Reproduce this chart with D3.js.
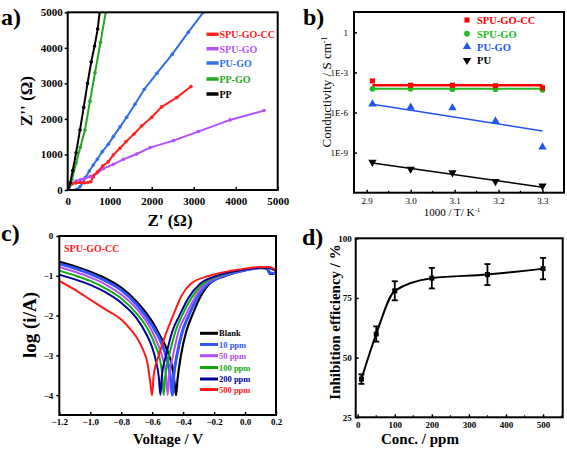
<!DOCTYPE html>
<html><head><meta charset="utf-8">
<script src="https://cdn.jsdelivr.net/npm/d3@7/dist/d3.min.js"></script>
<style>body{margin:0;background:#fff}svg{display:block}</style>
</head><body>
<script>
// ---------- Panel a data (Nyquist) ----------
const aSeries = ["SPU-GO-CC","SPU-GO","PU-GO","PP-GO","PP"];
const aColors = ["#ff2020","#b450ff","#2f6fe8","#22aa22","#000000"];
const aSPUGOCC = [[0,20],[30,100],[100,170],[200,200],[300,210],[400,205],[480,212],[548,234],[610,375],[714,515],[833,676],[967,797],[1086,986],[1245,1175],[1388,1361],[1579,1577],[1762,1803],[2000,2048],[2238,2338],[2595,2600],[2936,2910]];
const aSPUGO = [[10,20],[50,120],[100,190],[200,250],[300,290],[400,320],[531,375],[700,480],[848,600],[1086,723],[1325,864],[1643,1014],[1960,1192],[2516,1389],[3110,1643],[3865,1972],[4676,2234]];
const aPUGO = [[214,20],[293,93],[357,206],[428,358],[514,535],[610,704],[705,864],[824,1079],[967,1287],[1086,1502],[1245,1775],[1404,2048],[1602,2414],[1825,2836],[2126,3287],[2491,3822],[2872,4442],[3229,5000],[3300,5100]];
const aPPGO = [[30,0],[100,300],[200,760],[300,1200],[412,1690],[530,2500],[650,3300],[780,4150],[905,5000],[920,5100]];
const aPP = [[15,0],[60,200],[120,550],[200,1050],[293,1690],[380,2320],[472,3000],[560,3600],[640,4050],[714,4530],[760,5000],[770,5100]];
const aTicks = [0,1000,2000,3000,4000,5000];

// ---------- Panel b data (conductivity) ----------
const bSeries = ["SPU-GO-CC","SPU-GO","PU-GO","PU"];
const bColors = ["#ff0000","#22bb22","#2255ee","#000000"];
const bX = [2.913,3.0,3.095,3.193,3.3];
const bSPUGOCC = [2.3e-4,1.1e-4,1.1e-4,1.0e-4,7e-5];
const bSPUGO = [5.9e-5,5.9e-5,5.6e-5,5.6e-5,5.0e-5];
const bPUGO = [4.2e-6,2.4e-6,2.2e-6,2.3e-7,2.6e-9];
const bPU = [1.9e-10,5.9e-11,3.2e-11,7e-12,3.2e-12];
const bFitX = [2.913,3.3];
const bFitSPUGOCC = [1.1e-4,1.1e-4];
const bFitSPUGO = [5.9e-5,5.9e-5];
const bFitPUGO = [4.2e-6,4.2e-8];
const bFitPU = [1.7e-10,2.6e-12];
const bXTicks = [2.9,3.0,3.1,3.2,3.3];
const bYTicks = [1,1e-3,1e-6,1e-9];
const bYLabels = ["1","1E-3","1E-6","1E-9"];

// ---------- Panel c data (Tafel) ----------
const cSeries = ["Blank","10 ppm","50 ppm","100 ppm","200 ppm","500 ppm"];
const cColors = ["#000000","#3355ff","#b44dff","#11aa11","#000099","#ff1a1a"];
const cBlank = [[-1.2,-0.65],[-1.1,-0.76],[-1.0,-0.9],[-0.9,-1.07],[-0.8,-1.3],[-0.7,-1.65],[-0.6,-2.15],[-0.55,-2.5],[-0.5,-2.9],[-0.47,-3.3],[-0.455,-3.7],[-0.446,-4.0],[-0.436,-3.6],[-0.414,-3.0],[-0.38,-2.4],[-0.342,-2.0],[-0.285,-1.5],[-0.23,-1.2],[-0.125,-1.0],[0,-0.86],[0.1,-0.8],[0.14,-0.82],[0.16,-0.95],[0.2,-0.95]];
const c10 = [[-1.2,-0.7],[-1.1,-0.81],[-1.0,-0.95],[-0.9,-1.13],[-0.8,-1.36],[-0.7,-1.72],[-0.6,-2.25],[-0.55,-2.6],[-0.52,-2.9],[-0.49,-3.35],[-0.478,-3.7],[-0.47,-4.0],[-0.46,-3.5],[-0.44,-3.0],[-0.405,-2.4],[-0.364,-2.0],[-0.305,-1.52],[-0.245,-1.22],[-0.15,-1.02],[0,-0.86],[0.1,-0.8],[0.14,-0.8],[0.16,-0.92],[0.2,-0.95]];
const c50 = [[-1.2,-0.78],[-1.1,-0.9],[-1.0,-1.04],[-0.9,-1.22],[-0.8,-1.47],[-0.7,-1.83],[-0.6,-2.4],[-0.56,-2.75],[-0.53,-3.1],[-0.51,-3.5],[-0.5,-4.0],[-0.49,-3.5],[-0.465,-3.0],[-0.43,-2.4],[-0.385,-2.0],[-0.325,-1.55],[-0.26,-1.22],[-0.17,-1.03],[0,-0.85],[0.1,-0.8],[0.15,-0.8],[0.2,-0.9]];
const c100 = [[-1.2,-0.87],[-1.1,-0.99],[-1.0,-1.13],[-0.9,-1.32],[-0.8,-1.57],[-0.7,-1.95],[-0.62,-2.4],[-0.58,-2.75],[-0.55,-3.1],[-0.535,-3.5],[-0.526,-4.0],[-0.515,-3.5],[-0.49,-3.0],[-0.45,-2.4],[-0.407,-2.0],[-0.345,-1.55],[-0.275,-1.22],[-0.18,-1.02],[0,-0.84],[0.1,-0.8],[0.15,-0.8],[0.2,-0.88]];
const c200 = [[-1.2,-0.97],[-1.1,-1.09],[-1.0,-1.23],[-0.9,-1.42],[-0.8,-1.68],[-0.7,-2.07],[-0.64,-2.45],[-0.6,-2.8],[-0.575,-3.15],[-0.557,-3.55],[-0.547,-4.0],[-0.537,-3.5],[-0.51,-3.0],[-0.47,-2.4],[-0.424,-2.0],[-0.365,-1.55],[-0.29,-1.2],[-0.19,-1.01],[0,-0.84],[0.1,-0.8],[0.15,-0.8],[0.2,-0.88]];
const c500 = [[-1.2,-1.13],[-1.1,-1.35],[-1.0,-1.6],[-0.9,-1.85],[-0.8,-2.1],[-0.75,-2.3],[-0.7,-2.55],[-0.66,-2.85],[-0.63,-3.2],[-0.612,-3.7],[-0.601,-4.0],[-0.59,-3.5],[-0.557,-3.0],[-0.515,-2.5],[-0.465,-2.0],[-0.41,-1.5],[-0.35,-1.2],[-0.23,-1.0],[-0.1,-0.88],[0,-0.82],[0.1,-0.78],[0.15,-0.78],[0.2,-0.85]];
const cXTicks = [-1.2,-1.0,-0.8,-0.6,-0.4,-0.2,0.0,0.2];
const cYTicks = [0,-1,-2,-3,-4];

// ---------- Panel d data (inhibition efficiency) ----------
const dConc = [10,50,100,200,350,500];
const dIE = [41,59.9,78,83.3,84.8,87.3];
const dErr = [2,3.2,4,4.3,4.4,4.5];
const dXTicks = [0,100,200,300,400,500];
const dYTicks = [25,50,75,100];

const SERIF = "'Liberation Serif','Times New Roman',serif";
const svg = d3.select("body").append("svg").attr("width",567).attr("height",449)
  .attr("font-family",SERIF).attr("font-weight","bold");

function box(g,x0,y0,x1,y1){
  g.append("rect").attr("x",x0).attr("y",y0).attr("width",x1-x0).attr("height",y1-y0)
   .attr("fill","none").attr("stroke","#000").attr("stroke-width",2);
}
function clip(id,x0,y0,x1,y1){
  svg.append("clipPath").attr("id",id).append("rect").attr("x",x0).attr("y",y0).attr("width",x1-x0).attr("height",y1-y0);
}
function styleAxis(g,fs){
  g.select(".domain").remove();
  g.selectAll(".tick line").attr("stroke","#000").attr("stroke-width",1.5);
  g.selectAll(".tick text").attr("font-size",fs).attr("font-family",SERIF).attr("font-weight","bold").attr("fill","#000");
}

// ================= Panel a =================
{
  const x = d3.scaleLinear([0,5000],[67.7,277.7]);
  const y = d3.scaleLinear([0,5000],[190,12.3]);
  clip("ca",67.7,12.3,277.7,190);
  const gl = svg.append("g").attr("clip-path","url(#ca)");
  const line = d3.line().x(d=>x(d[0])).y(d=>y(d[1]));
  const data = [aSPUGOCC,aSPUGO,aPUGO,aPPGO,aPP];
  const order = [2,1,0,3,4];
  order.forEach(i=>{
    gl.append("path").attr("d",line(data[i])).attr("fill","none").attr("stroke",aColors[i]).attr("stroke-width",2);
    gl.selectAll(null).data(data[i]).enter().append("circle")
      .attr("cx",d=>x(d[0])).attr("cy",d=>y(d[1])).attr("r",1.8).attr("fill",aColors[i]);
  });
  const ax = svg.append("g").attr("transform","translate(0,190)")
    .call(d3.axisBottom(x).tickValues(aTicks).tickSize(-3).tickPadding(7).tickFormat(d3.format("d")));
  styleAxis(ax,11);
  const ay = svg.append("g").attr("transform","translate(67.7,0)")
    .call(d3.axisLeft(y).tickValues(aTicks).tickSize(3).tickPadding(2).tickFormat(d3.format("d")));
  styleAxis(ay,11);
  box(svg,67.7,12.3,277.7,190);
  const ly = [34.3,48.7,63,79,94];
  aSeries.forEach((s,i)=>{
    svg.append("line").attr("x1",206.5).attr("x2",218.5).attr("y1",ly[i]).attr("y2",ly[i]).attr("stroke",aColors[i]).attr("stroke-width",3.5);
    svg.append("text").attr("x",219.5).attr("y",ly[i]+3.8).attr("font-size",10).attr("fill",aColors[i]).text(s);
  });
  svg.append("text").attr("x",170).attr("y",226).attr("text-anchor","middle").attr("font-size",17).text("Z' (\u03A9)");
  svg.append("text").attr("transform","translate(32,101) rotate(-90)").attr("text-anchor","middle").attr("font-size",17).text("Z'' (\u03A9)");
  svg.append("text").attr("x",1).attr("y",25).attr("font-size",24).text("a)");
}

// ================= Panel b =================
{
  const x = d3.scaleLinear([2.871,3.349],[354,564]);
  const y = d3.scaleLog([1e-12,Math.pow(10,1.52)],[192.7,12]);
  const data = [bSPUGOCC,bSPUGO,bPUGO,bPU];
  const fits = [bFitSPUGOCC,bFitSPUGO,bFitPUGO,bFitPU];
  const widths = [2.5,2,1.5,1.5];
  const symbols = [d3.symbolSquare,d3.symbolCircle,d3.symbolTriangle,d3.symbolTriangle];
  const sizes = [26,26,30,30];
  [3,2,1,0].forEach(i=>{
    svg.append("path").attr("d",d3.line().x((d,j)=>x(bFitX[j])).y(d=>y(d))(fits[i]))
      .attr("stroke",bColors[i]).attr("stroke-width",widths[i]).attr("fill","none");
    svg.selectAll(null).data(data[i]).enter().append("path")
      .attr("d",d3.symbol().type(symbols[i]).size(sizes[i]))
      .attr("transform",(d,j)=>`translate(${x(bX[j])},${y(d)})${i===3?" rotate(180)":""}`)
      .attr("fill",bColors[i]);
  });
  const ax = svg.append("g").attr("transform","translate(0,192.7)")
    .call(d3.axisBottom(x).tickValues(bXTicks).tickSize(-3).tickPadding(5).tickFormat(d3.format(".1f")));
  styleAxis(ax,9);
  ax.selectAll(".tick text").attr("font-weight","normal");
  const minor = [2.95,3.05,3.15,3.25];
  svg.selectAll(null).data(minor).enter().append("line").attr("x1",d=>x(d)).attr("x2",d=>x(d))
    .attr("y1",192.7).attr("y2",190.7).attr("stroke","#000").attr("stroke-width",1.2);
  const ay = svg.append("g").attr("transform","translate(354,0)")
    .call(d3.axisLeft(y).tickValues(bYTicks).tickSize(-3).tickPadding(6).tickFormat((d,i)=>bYLabels[i]));
  styleAxis(ay,9);
  ay.selectAll(".tick text").attr("font-weight","normal");
  box(svg,354,12,564,192.7);
  const ly = [20,33.7,46.7,60.3];
  bSeries.forEach((s,i)=>{
    svg.append("path").attr("d",d3.symbol().type(symbols[i]).size(sizes[i]))
      .attr("transform",`translate(467,${ly[i]})${i===3?" rotate(180)":""}`).attr("fill",bColors[i]);
    svg.append("text").attr("x",477).attr("y",ly[i]+3.8).attr("font-size",10.5).attr("fill",bColors[i]).text(s);
  });
  const xt = svg.append("text").attr("x",452).attr("y",216).attr("text-anchor","middle").attr("font-size",11).attr("font-weight","normal");
  xt.append("tspan").text("1000 / T/ K");
  xt.append("tspan").attr("baseline-shift","super").attr("font-size",7).text("-1");
  const yt = svg.append("text").attr("transform","translate(331,92) rotate(-90)").attr("text-anchor","middle").attr("font-size",13).attr("font-weight","normal");
  yt.append("tspan").text("Conductivity / S cm");
  yt.append("tspan").attr("baseline-shift","super").attr("font-size",8).text("-1");
  svg.append("text").attr("x",303).attr("y",25).attr("font-size",24).text("b)");
}

// ================= Panel c =================
{
  const x = d3.scaleLinear([-1.2,0.2],[59.3,276]);
  const y = d3.scaleLinear([-4.5,0],[415,236]);
  clip("cc",59.3,236,276,415);
  const gl = svg.append("g").attr("clip-path","url(#cc)");
  const line = d3.line().x(d=>x(d[0])).y(d=>y(d[1])).curve(d3.curveMonotoneX);
  const data = [cBlank,c10,c50,c100,c200,c500];
  const widths = [2.2,3,2,2,2,2];
  [0,1,2,3,4,5].forEach(i=>{
    gl.append("path").attr("d",line(data[i])).attr("fill","none").attr("stroke",cColors[i]).attr("stroke-width",widths[i]);
  });
  const ax = svg.append("g").attr("transform","translate(0,415)")
    .call(d3.axisBottom(x).tickValues(cXTicks).tickSize(-3).tickPadding(4).tickFormat(d3.format(".1f")));
  styleAxis(ax,9);
  const ay = svg.append("g").attr("transform","translate(59.3,0)")
    .call(d3.axisLeft(y).tickValues(cYTicks).tickSize(3).tickPadding(3).tickFormat(d3.format("d")));
  styleAxis(ay,9);
  box(svg,59.3,236,276,415);
  const ly = [333.3,344.5,355.7,367.5,379,389.5];
  cSeries.forEach((s,i)=>{
    svg.append("line").attr("x1",200).attr("x2",218).attr("y1",ly[i]).attr("y2",ly[i]).attr("stroke",cColors[i]).attr("stroke-width",3);
    svg.append("text").attr("x",219).attr("y",ly[i]+3).attr("font-size",8.5).attr("fill",cColors[i]).text(s);
  });
  svg.append("text").attr("x",64).attr("y",252).attr("font-size",10).attr("fill","#ff1a1a").text("SPU-GO-CC");
  svg.append("text").attr("x",168).attr("y",444).attr("text-anchor","middle").attr("font-size",15).text("Voltage / V");
  svg.append("text").attr("transform","translate(36,325) rotate(-90)").attr("text-anchor","middle").attr("font-size",19).text("log (i/A)");
  svg.append("text").attr("x",1).attr("y",241).attr("font-size",24).text("c)");
}

// ================= Panel d =================
{
  const x = d3.scaleLinear([-5.4,553],[355.7,562.7]);
  const y = d3.scaleLinear([25,100],[417.3,238.3]);
  const pts = dConc.map((c,i)=>[c,dIE[i]]);
  svg.append("path").attr("d",d3.line().x(d=>x(d[0])).y(d=>y(d[1])).curve(d3.curveMonotoneX)(pts))
    .attr("fill","none").attr("stroke","#000").attr("stroke-width",2);
  dConc.forEach((c,i)=>{
    const cx=x(c), t=y(dIE[i]+dErr[i]), b=y(dIE[i]-dErr[i]);
    svg.append("line").attr("x1",cx).attr("x2",cx).attr("y1",t).attr("y2",b).attr("stroke","#000").attr("stroke-width",1.8);
    svg.append("line").attr("x1",cx-3).attr("x2",cx+3).attr("y1",t).attr("y2",t).attr("stroke","#000").attr("stroke-width",1.8);
    svg.append("line").attr("x1",cx-3).attr("x2",cx+3).attr("y1",b).attr("y2",b).attr("stroke","#000").attr("stroke-width",1.8);
    svg.append("rect").attr("x",cx-2.5).attr("y",y(dIE[i])-2.5).attr("width",5).attr("height",5).attr("fill","#000");
  });
  const ax = svg.append("g").attr("transform","translate(0,417.3)")
    .call(d3.axisBottom(x).tickValues(dXTicks).tickSize(-3).tickPadding(4).tickFormat(d3.format("d")));
  styleAxis(ax,9);
  const minor = [50,150,250,350,450,550];
  svg.selectAll(null).data(minor).enter().append("line").attr("x1",d=>x(d)).attr("x2",d=>x(d))
    .attr("y1",417.3).attr("y2",415.3).attr("stroke","#000").attr("stroke-width",1.2);
  const ay = svg.append("g").attr("transform","translate(355.7,0)")
    .call(d3.axisLeft(y).tickValues(dYTicks).tickSize(-3).tickPadding(4).tickFormat(d3.format("d")));
  styleAxis(ay,9);
  box(svg,355.7,238.3,562.7,417.3);
  svg.append("text").attr("x",420).attr("y",444).attr("text-anchor","middle").attr("font-size",15).text("Conc. / ppm");
  svg.append("text").attr("transform","translate(340,322) rotate(-90)").attr("text-anchor","middle").attr("font-size",15).text("Inhibition efficiency / %");
  svg.append("text").attr("x",302).attr("y",245).attr("font-size",24).text("d)");
}
</script>
</body></html>
